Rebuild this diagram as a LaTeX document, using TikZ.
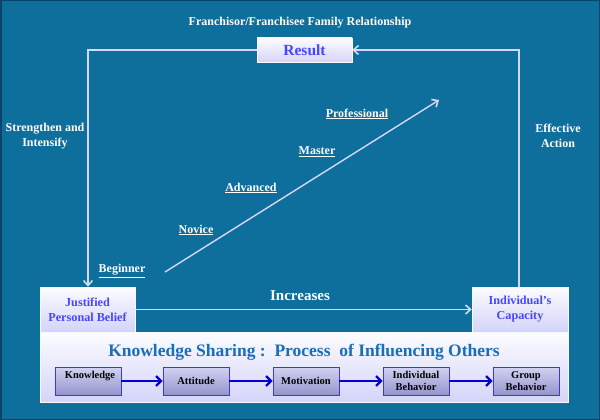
\documentclass[tikz,border=0pt]{standalone}
\usepackage{fontspec}
\setmainfont{Liberation Serif}
\usetikzlibrary{arrows.meta,shadows}
\definecolor{bgblue}{RGB}{14,110,156}
\definecolor{bgedge}{RGB}{8,70,105}
\definecolor{lav}{RGB}{215,215,248}
\definecolor{boxtop}{RGB}{252,252,255}
\definecolor{boxbot}{RGB}{212,212,250}
\definecolor{txtblue}{RGB}{70,70,255}
\definecolor{ksblue}{RGB}{25,110,185}
\definecolor{smtop}{RGB}{210,210,242}
\definecolor{smbot}{RGB}{148,148,205}
\definecolor{smedge}{RGB}{60,60,200}
\definecolor{arrblue}{RGB}{0,0,210}
\tikzset{
  lbl/.style={text=white,font=\bfseries\fontsize{12}{15}\selectfont,align=center,inner sep=0pt},
  stage/.style={text=white,font=\bfseries\fontsize{12}{14}\selectfont,inner sep=0pt},
  bigbox/.style={draw=white!85!lav,line width=0.6pt,top color=boxtop,bottom color=boxbot,
     drop shadow={opacity=0.35,shadow xshift=1pt,shadow yshift=-1pt},
     text=txtblue,font=\bfseries\fontsize{12.2}{15}\selectfont,align=center,inner sep=0pt},
  smbox/.style={draw=smedge,line width=0.8pt,top color=smtop,bottom color=smbot,
     text=black,font=\bfseries\fontsize{10.5}{12.5}\selectfont,align=center,inner sep=0pt},
  loopline/.style={draw=lav,line width=1.6pt},
  looparrow/.style={loopline,-{Straight Barb[length=5pt,width=9pt,line width=1.6pt]}},
  smarrow/.style={draw=arrblue,line width=2.2pt,-{Straight Barb[length=5pt,width=10pt,line width=2.2pt]}},
}
\begin{document}
\begin{tikzpicture}[x=1pt,y=-1pt]
\useasboundingbox (0,0) rectangle (600,420);
\fill[bgblue] (0,0) rectangle (600,420);
\draw[bgedge,line width=1.5pt] (0.75,0.75) rectangle (599.25,419.25);

\node[lbl] (title) at (300,23) {Franchisor/Franchisee Family Relationship};

% bottom big box
\node[bigbox,minimum width=528pt,minimum height=70pt] (ks) at (304,367) {};
\node[text=ksblue,font=\bfseries\fontsize{17.5}{20}\selectfont,inner sep=0pt] (kstitle) at (304,352)
  {Knowledge Sharing :\ \ Process\ \ of Influencing Others};

% main boxes
\node[bigbox,minimum width=95pt,minimum height=45pt] (jpb) at (87.5,309.5) {Justified\\Personal Belief};
\node[bigbox,minimum width=96pt,minimum height=45pt] (cap) at (520,309.5) {Individual’s\\Capacity};
\node[bigbox,minimum width=95pt,minimum height=24pt,font=\bfseries\fontsize{15.5}{17}\selectfont] (res) at (304.5,50) {Result};

% loop
\coordinate (lt) at (88,50);
\coordinate (rt) at (519,50);
\draw[looparrow] (res.west) -- (lt) -- (jpb.north -| lt);
\draw[looparrow] (cap.north -| rt) -- (rt) -- (res.east);
\draw[looparrow] (jpb.east) -- (cap.west);

\node[lbl] (si) at (45,136) {Strengthen and\\Intensify};
\node[lbl] (ea) at (558,136) {Effective\\Action};
\node[lbl,font=\bfseries\fontsize{15}{17}\selectfont] (inc) at (300,296) {Increases};

% diagonal
\coordinate (d0) at (165,272);
\coordinate (d1) at (439,100);
\draw[looparrow,line width=1.4pt] (d0) -- (d1);
\node[stage] (beg) at (122,271) {\underline{Beginner}};
\node[stage] (nov) at (196,230) {\underline{Novice}};
\node[stage] (adv) at (251,188) {\underline{Advanced}};
\node[stage] (mas) at (317,152) {\underline{Master}};
\node[stage] (pro) at (357,114) {\underline{Professional}};

% process boxes
\node[smbox,minimum width=66pt,minimum height=28pt] (k) at (88,381) {};
\node[text=black,font=\bfseries\fontsize{10.5}{12.5}\selectfont,inner sep=0pt] (kt) at (90,376) {Knowledge};
\node[smbox,minimum width=66pt,minimum height=28pt] (a) at (196,381) {Attitude};
\node[smbox,minimum width=66pt,minimum height=28pt] (m) at (306,381) {Motivation};
\node[smbox,minimum width=66pt,minimum height=28pt] (ib) at (416,381) {Individual\\Behavior};
\node[smbox,minimum width=66pt,minimum height=28pt] (gb) at (526,381) {Group\\Behavior};
\draw[smarrow] (k) -- (a);
\draw[smarrow] (a) -- (m);
\draw[smarrow] (m) -- (ib);
\draw[smarrow] (ib) -- (gb);
\end{tikzpicture}
\end{document}
